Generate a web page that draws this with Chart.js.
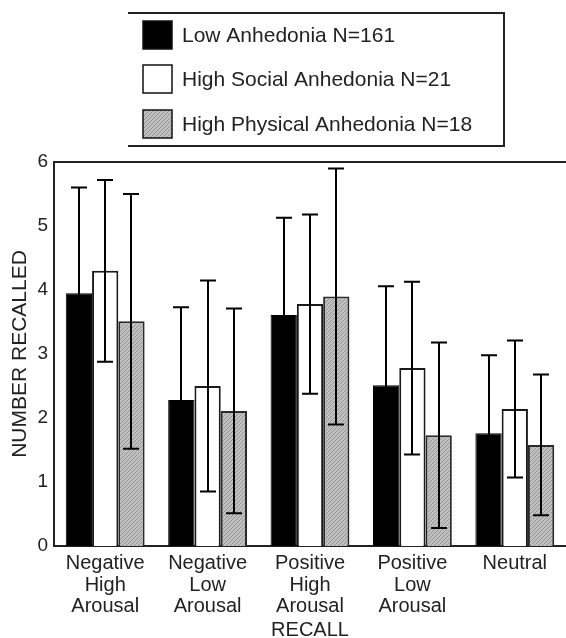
<!DOCTYPE html>
<html>
<head>
<meta charset="utf-8">
<script src="https://cdn.jsdelivr.net/npm/chart.js@4.4.1/dist/chart.umd.min.js"></script>
<style>
  html, body { margin: 0; padding: 0; background: #fff; }
  #wrap { width: 566px; height: 638px; position: relative; }
</style>
</head>
<body>
<div id="wrap"><canvas id="recallChart" width="566" height="638"></canvas></div>
<script>
// Categorias e valores
const categorias = [
  ['Negative', 'High', 'Arousal'],
  ['Negative', 'Low', 'Arousal'],
  ['Positive', 'High', 'Arousal'],
  ['Positive', 'Low', 'Arousal'],
  ['Neutral']
];
const grupos = ['Low Anhedonia N=161', 'High Social Anhedonia N=21', 'High Physical Anhedonia N=18'];

const mediaBaixa   = [3.95, 2.28, 3.61, 2.51, 1.76];
const mediaSocial  = [4.30, 2.50, 3.78, 2.78, 2.14];
const mediaFisica  = [3.51, 2.11, 3.90, 1.73, 1.58];

const dpBaixa  = [1.65, 1.45, 1.52, 1.55, 1.22];
const dpSocial = [1.42, 1.65, 1.40, 1.35, 1.07];
const dpFisica = [1.99, 1.60, 2.00, 1.45, 1.10];

const yTicks = [0, 1, 2, 3, 4, 5, 6];

const FONT = '"Liberation Sans", Arial, sans-serif';
const INK = '#222';

// textura hachurada cinza
function hatch(){
  const c = document.createElement('canvas');
  c.width = 4; c.height = 4;
  const g = c.getContext('2d');
  g.fillStyle = '#c0c0c0';
  g.fillRect(0, 0, 4, 4);
  g.strokeStyle = '#969696';
  g.lineWidth = 1;
  g.beginPath();
  g.moveTo(0, 4); g.lineTo(4, 0);
  g.moveTo(-1, 1); g.lineTo(1, -1);
  g.moveTo(3, 5); g.lineTo(5, 3);
  g.stroke();
  return g.createPattern(c, 'repeat');
}
const cinza = hatch();

// barras de erro (média ± dp)
const errorBars = {
  id: 'errorBars',
  afterDatasetsDraw(chart){
    const ctx = chart.ctx;
    const y = chart.scales.y;
    ctx.save();
    ctx.strokeStyle = '#000';
    ctx.lineWidth = 2;
    chart.data.datasets.forEach((ds, di) => {
      const meta = chart.getDatasetMeta(di);
      meta.data.forEach((bar, i) => {
        const m = ds.data[i], sd = ds.sd[i];
        const top = y.getPixelForValue(m + sd);
        const bot = y.getPixelForValue(Math.max(0, m - sd));
        const x = Math.round(bar.x);
        ctx.beginPath();
        ctx.moveTo(x, top); ctx.lineTo(x, bot);
        ctx.moveTo(x - 8, top); ctx.lineTo(x + 8, top);
        ctx.moveTo(x - 8, bot); ctx.lineTo(x + 8, bot);
        ctx.stroke();
      });
    });
    ctx.restore();
  }
};

// moldura superior e legenda em caixa
const frameLegend = {
  id: 'frameLegend',
  afterDraw(chart){
    const ctx = chart.ctx;
    const a = chart.chartArea;
    ctx.save();
    ctx.strokeStyle = INK;
    ctx.lineWidth = 2;
    ctx.beginPath();
    ctx.moveTo(a.left, a.top); ctx.lineTo(chart.width, a.top);
    ctx.stroke();

    // caixa da legenda
    ctx.beginPath();
    ctx.moveTo(128, 13); ctx.lineTo(504, 13); ctx.lineTo(504, 146); ctx.lineTo(128, 146);
    ctx.stroke();

    const rows = [35, 79, 124];
    ctx.font = '21px ' + FONT;
    ctx.textBaseline = 'middle';
    chart.data.datasets.forEach((ds, i) => {
      const cy = rows[i];
      ctx.fillStyle = ds.backgroundColor;
      ctx.fillRect(143, cy - 14, 29, 28);
      ctx.lineWidth = 1.5;
      ctx.strokeStyle = '#111';
      ctx.strokeRect(143, cy - 14, 29, 28);
      ctx.fillStyle = INK;
      ctx.fillText(ds.label, 182, cy + 1);
    });
    ctx.restore();
  }
};

new Chart(document.getElementById('recallChart').getContext('2d'), {
  type: 'bar',
  data: {
    labels: categorias,
    datasets: [
      { label: grupos[0], data: mediaBaixa,  sd: dpBaixa,  backgroundColor: '#000', borderColor: '#000', borderWidth: 1 },
      { label: grupos[1], data: mediaSocial, sd: dpSocial, backgroundColor: '#fff', borderColor: '#1a1a1a', borderWidth: 2 },
      { label: grupos[2], data: mediaFisica, sd: dpFisica, backgroundColor: cinza, borderColor: '#2a2a2a', borderWidth: 2 }
    ]
  },
  options: {
    responsive: false,
    animation: false,
    layout: { padding: { top: 162, right: 0, left: 0, bottom: 0 } },
    categoryPercentage: 0.77,
    barPercentage: 1.0,
    plugins: {
      legend: { display: false },
      tooltip: { enabled: false }
    },
    scales: {
      x: {
        grid: { display: false, drawTicks: false },
        border: { display: true, color: INK, width: 2 },
        ticks: {
          color: INK, padding: 7, maxRotation: 0, autoSkip: false,
          font: { family: FONT, size: 20, lineHeight: 1.07 }
        },
        title: {
          display: true, text: 'RECALL', color: INK,
          font: { family: FONT, size: 20 }, padding: { top: 0, bottom: -4 }
        },
        afterFit(s){ s.height = 92; }
      },
      y: {
        min: 0, max: 6,
        grid: { display: false, drawTicks: false },
        border: { display: true, color: INK, width: 2 },
        afterBuildTicks(s){ s.ticks = yTicks.map(v => ({ value: v })); },
        ticks: {
          color: INK, padding: 6,
          font: { family: FONT, size: 19 }
        },
        title: {
          display: true, text: 'NUMBER RECALLED', color: INK,
          font: { family: FONT, size: 21 }, padding: { top: 8, bottom: 0 }
        },
        afterFit(s){ s.width = 54; }
      }
    }
  },
  plugins: [errorBars, frameLegend]
});
</script>
</body>
</html>
